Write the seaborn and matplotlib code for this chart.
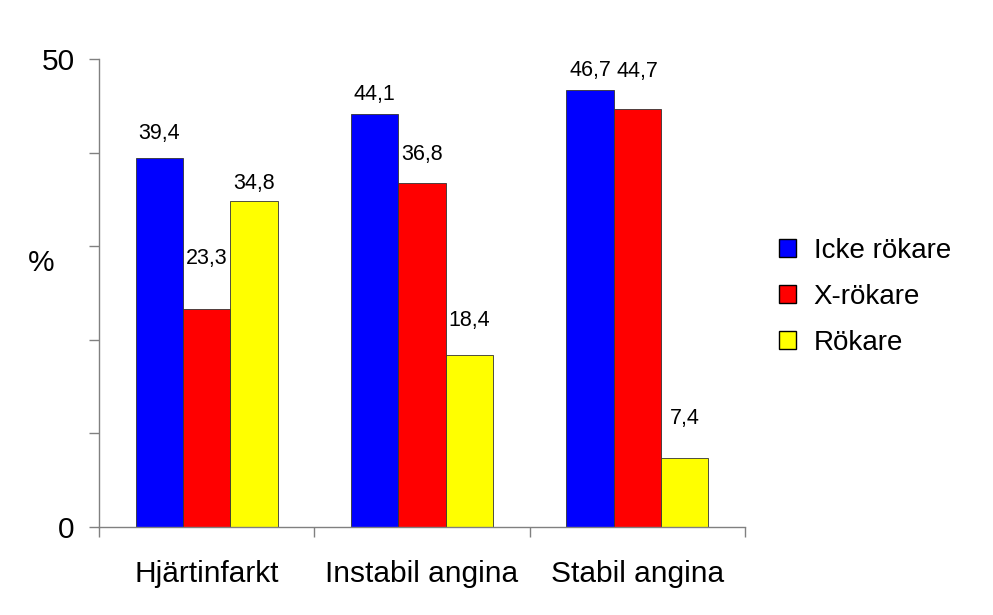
import matplotlib
matplotlib.use("Agg")
import matplotlib.pyplot as plt
import seaborn as sns
import pandas as pd
from matplotlib.ticker import FixedLocator, FuncFormatter

categories = ["Hjärtinfarkt", "Instabil angina", "Stabil angina"]
groups = ["Icke rökare", "X-rökare", "Rökare"]
icke = [39.4, 44.1, 46.7]
x_rok = [23.3, 36.8, 44.7]
rok = [34.8, 18.4, 7.4]
value_labels = {"Icke rökare": ["39,4", "44,1", "46,7"],
                "X-rökare": ["23,3", "36,8", "44,7"],
                "Rökare": ["34,8", "18,4", "7,4"]}
y_ticks = [0, 10, 20, 30, 40, 50]
y_ticklabels = ["0", "", "", "", "", "50"]
# label offsets above bar top (points)
label_offsets = {"Icke rökare": [18, 14, 14],
                 "X-rökare": [36, 20, 27],
                 "Rökare": [13, 25, 28]}
colors = ["#0000FF", "#FF0000", "#FFFF00"]

rows = []
for g, vals in zip(groups, [icke, x_rok, rok]):
    for c, v in zip(categories, vals):
        rows.append({"cat": c, "grp": g, "val": v})
df = pd.DataFrame(rows)

sns.set_style("ticks")
plt.rcParams["font.family"] = ["Liberation Sans", "DejaVu Sans"]
plt.rcParams["text.color"] = "black"
plt.rcParams["xtick.labelcolor"] = "black"
plt.rcParams["ytick.labelcolor"] = "black"

fig = plt.figure(figsize=(9.93, 6.15), dpi=100)
ax = fig.add_axes([99/993, 1-527/615, (745-99)/993, (527-59)/615])

sns.barplot(data=df, x="cat", y="val", hue="grp", hue_order=groups,
            order=categories, palette=colors, width=0.66, gap=0,
            saturation=1, edgecolor="#333333", linewidth=0.6, ax=ax,
            legend=True)

ax.set_xlim(-0.5, 2.5)
ax.set_ylim(0, 50)

for cont, g in zip(ax.containers, groups):
    for bar, lab, off in zip(cont, value_labels[g], label_offsets[g]):
        ax.annotate(lab, (bar.get_x() + bar.get_width()/2, bar.get_height()),
                    xytext=(0, off), textcoords="offset points",
                    ha="center", va="center", fontsize=15.5, color="black")

for s in ["top", "right"]:
    ax.spines[s].set_visible(False)
for s in ["left", "bottom"]:
    ax.spines[s].set_color("#808080")
    ax.spines[s].set_linewidth(1.0)

ax.yaxis.set_major_locator(FixedLocator(y_ticks))
ax.yaxis.set_major_formatter(FuncFormatter(
    lambda v, p: y_ticklabels[y_ticks.index(int(round(v)))] if int(round(v)) in y_ticks else ""))
ax.tick_params(axis="y", which="major", left=True, direction="out", length=7.5,
               color="#808080", width=1.0, labelsize=21.5, pad=10,
               labelcolor="black")

ax.xaxis.set_major_locator(FixedLocator([-0.5, 0.5, 1.5, 2.5]))
ax.xaxis.set_minor_locator(FixedLocator([0, 1, 2]))
ax.xaxis.set_major_formatter(FuncFormatter(lambda v, p: ""))
ax.xaxis.set_minor_formatter(FuncFormatter(lambda v, p: categories[int(round(v))]))
ax.tick_params(axis="x", which="major", bottom=True, direction="out", length=7.5,
               color="#808080", width=1.0)
ax.tick_params(axis="x", which="minor", bottom=True, length=0, labelsize=21.5,
               pad=24, labelcolor="black")

ax.set_xlabel("")
ax.set_ylabel("")
fig.text(41/993, 1-263/615, "%", fontsize=21.5, ha="center", va="center",
         color="black")

handles, labels = ax.get_legend_handles_labels()
ax.get_legend().remove()
for h in handles:
    h.set_edgecolor("black")
    h.set_linewidth(1.0)
fig.legend(handles, labels, loc="center left",
           bbox_to_anchor=(779/993, 1-297/615), frameon=False,
           fontsize=20, handlelength=0.6, handleheight=0.6,
           handletextpad=0.65, labelspacing=0.72, borderpad=0, borderaxespad=0,
           labelcolor="black")

fig.savefig("out.png", dpi=100, facecolor="white")
